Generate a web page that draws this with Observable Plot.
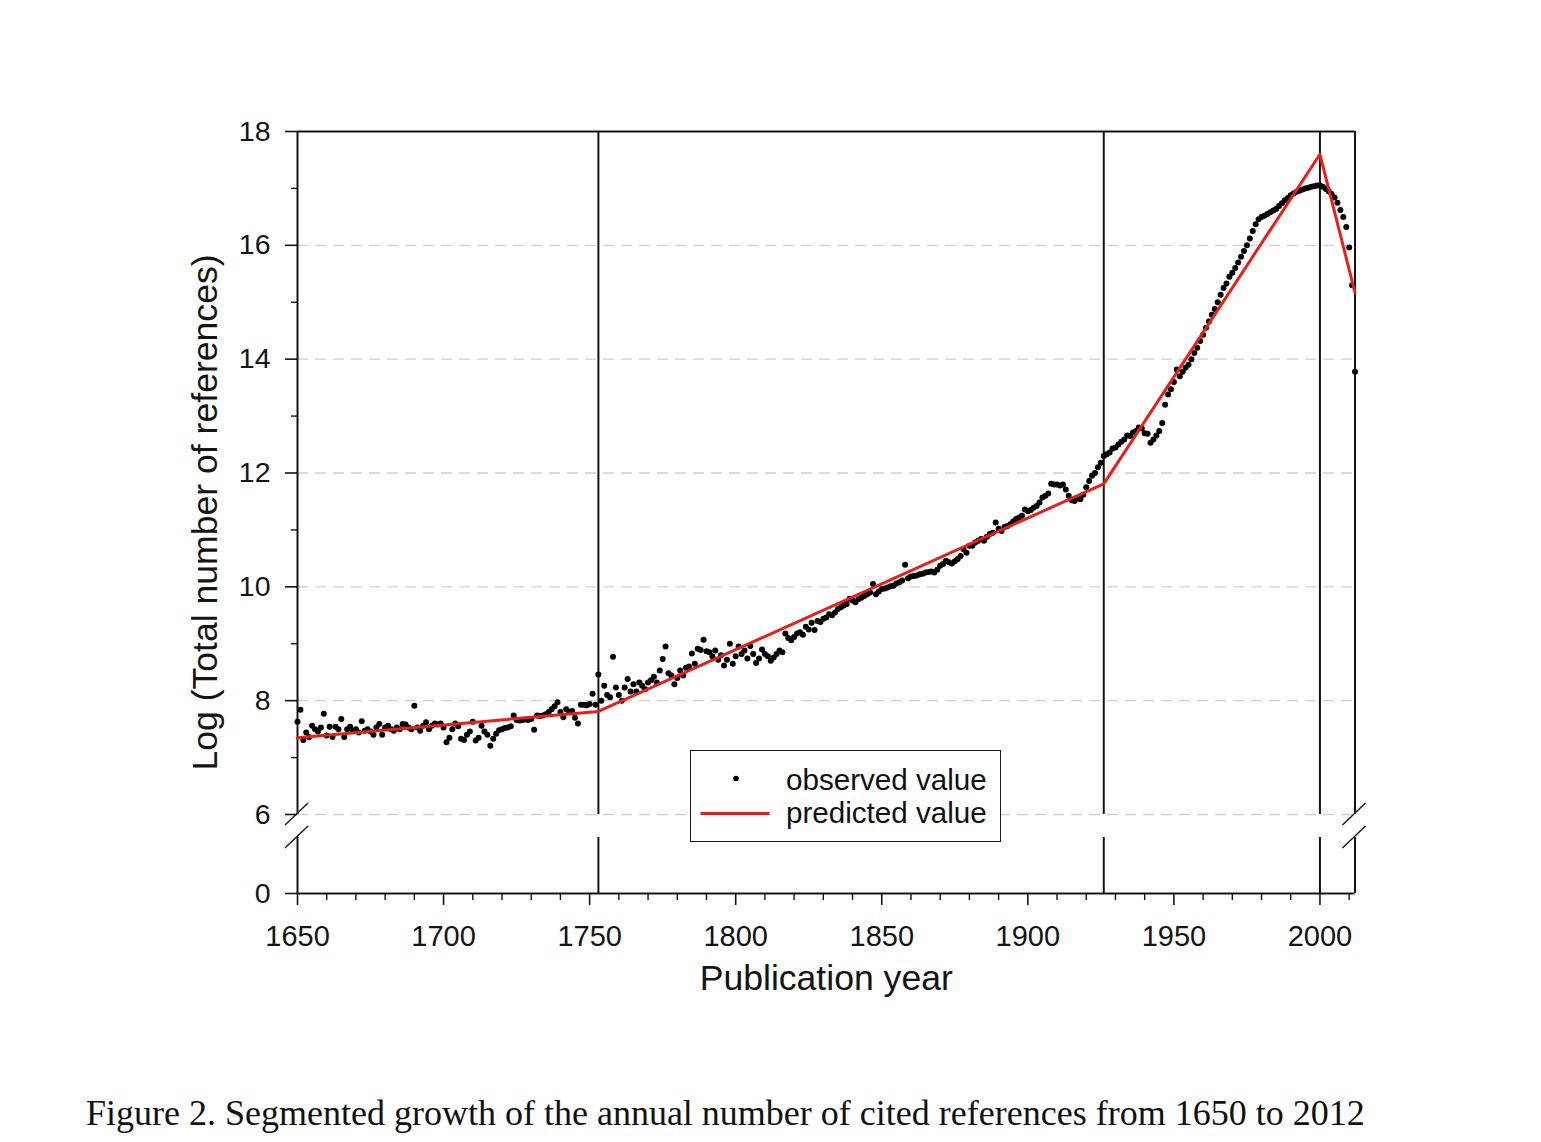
<!DOCTYPE html>
<html><head><meta charset="utf-8">
<script src="https://cdn.jsdelivr.net/npm/d3@7"></script>
<script src="https://cdn.jsdelivr.net/npm/@observablehq/plot@0.6"></script>
<style>
html,body{margin:0;padding:0;background:#fff;}
#wrap{position:relative;width:1541px;height:1142px;overflow:hidden;background:#fff;}
#chart{position:absolute;left:0;top:0;}
#legend{position:absolute;left:690px;top:750px;width:311px;height:92px;box-sizing:border-box;border:1.5px solid #1a1a1a;background:#fff;font-family:"Liberation Sans",Arial,sans-serif;font-size:29.6px;color:#111;}
#legend .lt{position:absolute;left:95px;line-height:29px;white-space:nowrap;}
#caption{position:absolute;left:86px;top:1094px;font-family:"Liberation Serif","Times New Roman",serif;font-size:36px;line-height:38px;white-space:nowrap;color:#111;}
</style></head>
<body>
<div id="wrap">
  <div id="chart"></div>
  <div id="legend">
    <svg width="308" height="89" style="position:absolute;left:0;top:0">
      <circle cx="45" cy="27.5" r="2.8" fill="#000"></circle>
      <line x1="9.5" y1="62.5" x2="78.5" y2="62.5" stroke="#e3201c" stroke-width="2.8"></line>
    </svg>
    <div class="lt" style="top:14px">observed value</div>
    <div class="lt" style="top:47px">predicted value</div>
  </div>
  <div id="caption">Figure 2. Segmented growth of the annual number of cited references from 1650 to 2012</div>
</div>
<script>
// ---------- data ----------
const firstYear = 1650;
// observed log(total number of references), one value per year 1650..2012
const observed = [
  7.63, 7.84, 7.31, 7.44, 7.36, 7.56, 7.50, 7.46, 7.53, 7.77,   // 1650s
  7.39, 7.54, 7.36, 7.54, 7.50, 7.68, 7.36, 7.50, 7.54, 7.47,   // 1660s
  7.50, 7.44, 7.64, 7.47, 7.50, 7.46, 7.40, 7.53, 7.59, 7.40,   // 1670s
  7.53, 7.56, 7.50, 7.47, 7.53, 7.50, 7.59, 7.58, 7.53, 7.50,   // 1680s
  7.91, 7.53, 7.47, 7.56, 7.62, 7.50, 7.56, 7.60, 7.58, 7.60,   // 1690s
  7.53, 7.27, 7.35, 7.50, 7.60, 7.55, 7.33, 7.31, 7.40, 7.46,   // 1700s
  7.63, 7.30, 7.35, 7.56, 7.46, 7.40, 7.21, 7.33, 7.42, 7.48,   // 1710s
  7.50, 7.52, 7.53, 7.55, 7.74, 7.66, 7.65, 7.66, 7.67, 7.66,   // 1720s
  7.68, 7.49, 7.74, 7.73, 7.74, 7.76, 7.80, 7.85, 7.90, 7.97,   // 1730s
  7.80, 7.71, 7.85, 7.80, 7.82, 7.70, 7.60, 7.93, 7.93, 7.92,   // 1740s
  7.94, 8.12, 7.93, 8.46, 8.00, 8.26, 8.10, 8.06, 8.77, 8.23,   // 1750s
  8.10, 8.00, 8.23, 8.38, 8.16, 8.29, 8.16, 8.32, 8.26, 8.20,   // 1760s
  8.32, 8.36, 8.42, 8.32, 8.53, 8.73, 8.95, 8.48, 8.44, 8.29,   // 1770s
  8.40, 8.53, 8.44, 8.58, 8.60, 8.83, 8.65, 8.91, 8.89, 9.07,   // 1780s
  8.87, 8.85, 8.78, 8.88, 8.72, 8.80, 8.62, 8.72, 9.00, 8.65,   // 1790s
  8.78, 8.95, 8.82, 8.88, 8.74, 8.96, 8.82, 8.66, 8.74, 8.90,   // 1800s
  8.82, 8.78, 8.70, 8.76, 8.82, 8.88, 8.85, 9.18, 9.10, 9.06,   // 1810s
  9.12, 9.18, 9.20, 9.16, 9.30, 9.25, 9.37, 9.24, 9.40, 9.38,   // 1820s
  9.44, 9.46, 9.52, 9.50, 9.55, 9.61, 9.64, 9.67, 9.70, 9.79,   // 1830s
  9.76, 9.73, 9.78, 9.81, 9.84, 9.87, 9.90, 10.05, 9.87, 9.92,  // 1840s
  9.96, 9.97, 9.99, 10.01, 10.02, 10.06, 10.08, 10.11, 10.39, 10.15, // 1850s
  10.18, 10.19, 10.20, 10.22, 10.23, 10.25, 10.26, 10.27, 10.25, 10.30, // 1860s
  10.37, 10.40, 10.46, 10.43, 10.41, 10.45, 10.49, 10.54, 10.66, 10.60, // 1870s
  10.72, 10.72, 10.78, 10.81, 10.84, 10.81, 10.88, 10.93, 10.95, 11.13, // 1880s
  11.02, 10.98, 11.05, 11.07, 11.10, 11.15, 11.19, 11.22, 11.25, 11.36, // 1890s
  11.33, 11.35, 11.39, 11.42, 11.48, 11.57, 11.60, 11.64, 11.81, 11.80, // 1900s
  11.80, 11.78, 11.80, 11.71, 11.60, 11.52, 11.51, 11.55, 11.54, 11.62, // 1910s
  11.75, 11.86, 11.95, 12.00, 12.10, 12.18, 12.30, 12.33, 12.36, 12.43, // 1920s
  12.45, 12.50, 12.55, 12.59, 12.66, 12.65, 12.71, 12.74, 12.80, 12.78, // 1930s
  12.70, 12.69, 12.53, 12.59, 12.66, 12.74, 12.88, 13.20, 13.38, 13.47, // 1940s
  13.60, 13.82, 13.70, 13.78, 13.85, 13.90, 14.00, 14.11, 14.20, 14.32, // 1950s
  14.43, 14.55, 14.66, 14.78, 14.88, 15.00, 15.13, 15.25, 15.33, 15.45, // 1960s
  15.52, 15.60, 15.70, 15.80, 15.90, 16.00, 16.12, 16.25, 16.37, 16.46, // 1970s
  16.50, 16.52, 16.55, 16.58, 16.61, 16.64, 16.69, 16.74, 16.79, 16.83, // 1980s
  16.88, 16.91, 16.94, 16.96, 16.98, 17.00, 17.01, 17.03, 17.04, 17.05, // 1990s
  17.05, 17.03, 16.99, 16.95, 16.90, 16.84, 16.75, 16.62, 16.50, 16.32, // 2000s
  15.96, 15.30, 13.78                                                   // 2010-2012
];
// segmented (piecewise) prediction
const predYears  = [1650, 1753, 1926, 2000, 2012];
const predValues = [7.35, 7.81, 11.81, 17.60, 15.17];
// breakpoints (vertical lines)
const breakYears = [1753, 1926, 2000];
// axes
const xDomain = [1650, 2012];
const xMajorTicks = [1650, 1700, 1750, 1800, 1850, 1900, 1950, 2000];
const xMinorTicks = [1660, 1670, 1680, 1690, 1710, 1720, 1730, 1740, 1760, 1770, 1780, 1790,
                     1810, 1820, 1830, 1840, 1860, 1870, 1880, 1890, 1910, 1920, 1930, 1940,
                     1960, 1970, 1980, 1990, 2010];
const yMajorTicks = [0, 6, 8, 10, 12, 14, 16, 18];
const yMinorTicks = [7, 9, 11, 13, 15, 17];
const yGridLines  = [6, 8, 10, 12, 14, 16];
const yDomain = [0, 6, 18];      // broken axis: 0 | break | 6..18
const yBreakLow = 4.25;          // lower segment of the broken axis ends here
const xLabel = "Publication year";
const yLabel = "Log (Total number of references)";

// ---------- build ----------
const W = 1541, H = 1060;
const obs = observed.map((v, i) => ({year: firstYear + i, value: v}));
const pred = predYears.map((yr, i) => ({year: yr, value: predValues[i]}));
const segs = [[yDomain[0], yBreakLow], [yDomain[1], yDomain[2]]];
const vlines = [];
for (const yr of [xDomain[0], ...breakYears, xDomain[1]]) for (const [a, b] of segs) vlines.push({year: yr, y1: a, y2: b});

const ink = "#141414";
const breakMarks = (index, scales) => {
  const ns = "http://www.w3.org/2000/svg";
  const g = document.createElementNS(ns, "g");
  for (const yr of [xDomain[0], xDomain[1]]) {
    for (const v of [yDomain[1], yBreakLow]) {
      const cx = scales.x(yr), cy = scales.y(v);
      const l = document.createElementNS(ns, "line");
      l.setAttribute("x1", cx - 12); l.setAttribute("y1", cy + 11);
      l.setAttribute("x2", cx + 11); l.setAttribute("y2", cy - 11);
      l.setAttribute("stroke", ink); l.setAttribute("stroke-width", 1.4);
      g.appendChild(l);
    }
  }
  return g;
};

const chart = Plot.plot({
  width: W, height: H,
  marginLeft: 297, marginRight: W - 1354.5, marginTop: 131, marginBottom: H - 893,
  x: {domain: xDomain, range: [297, 1354.5]},
  y: {type: "linear", domain: yDomain, range: [893, 814, 131]},
  style: {fontFamily: "'Liberation Sans', Arial, sans-serif", fontSize: "28px", color: ink, background: "#fff", overflow: "visible"},
  marks: [
    Plot.gridY(yGridLines, {stroke: "#cfcfcf", strokeOpacity: 1, strokeWidth: 1.3, strokeDasharray: "11,7"}),
    Plot.ruleX(vlines, {x: "year", y1: "y1", y2: "y2", stroke: ink, strokeWidth: 2}),
    Plot.ruleY([yDomain[2]], {x1: xDomain[0], x2: xDomain[1], stroke: ink, strokeWidth: 2}),
    Plot.ruleY([yDomain[0]], {x1: xDomain[0], x2: xDomain[1], stroke: ink, strokeWidth: 2}),
    Plot.axisY({ticks: yMajorTicks, tickSize: 12, tickPadding: 15, tickFormat: d => String(d), fontSize: 28.5, label: null, strokeWidth: 1.6}),
    Plot.axisY({ticks: yMinorTicks, tickSize: 6, tickFormat: () => "", label: null, strokeWidth: 1.4}),
    Plot.axisX({ticks: xMajorTicks, tickSize: 12, tickPadding: 20, tickFormat: d => String(d), fontSize: 29, label: null, strokeWidth: 1.6}),
    Plot.axisX({ticks: xMinorTicks, tickSize: 7, tickFormat: () => "", label: null, strokeWidth: 1.4}),
    Plot.dot(obs, {x: "year", y: "value", r: 3, fill: "#000", stroke: null}),
    Plot.line(pred, {x: "year", y: "value", stroke: "#e3201c", strokeWidth: 3}),
    breakMarks,
    Plot.text([xLabel], {text: d => d, frameAnchor: "bottom", dy: 96, fontSize: 35.6, fill: ink}),
    Plot.text([yLabel], {text: d => d, frameAnchor: "left", textAnchor: "middle", rotate: -90, dx: -92, fontSize: 35.6, fill: ink})
  ]
});
document.getElementById("chart").appendChild(chart);
</script>
</body></html>
